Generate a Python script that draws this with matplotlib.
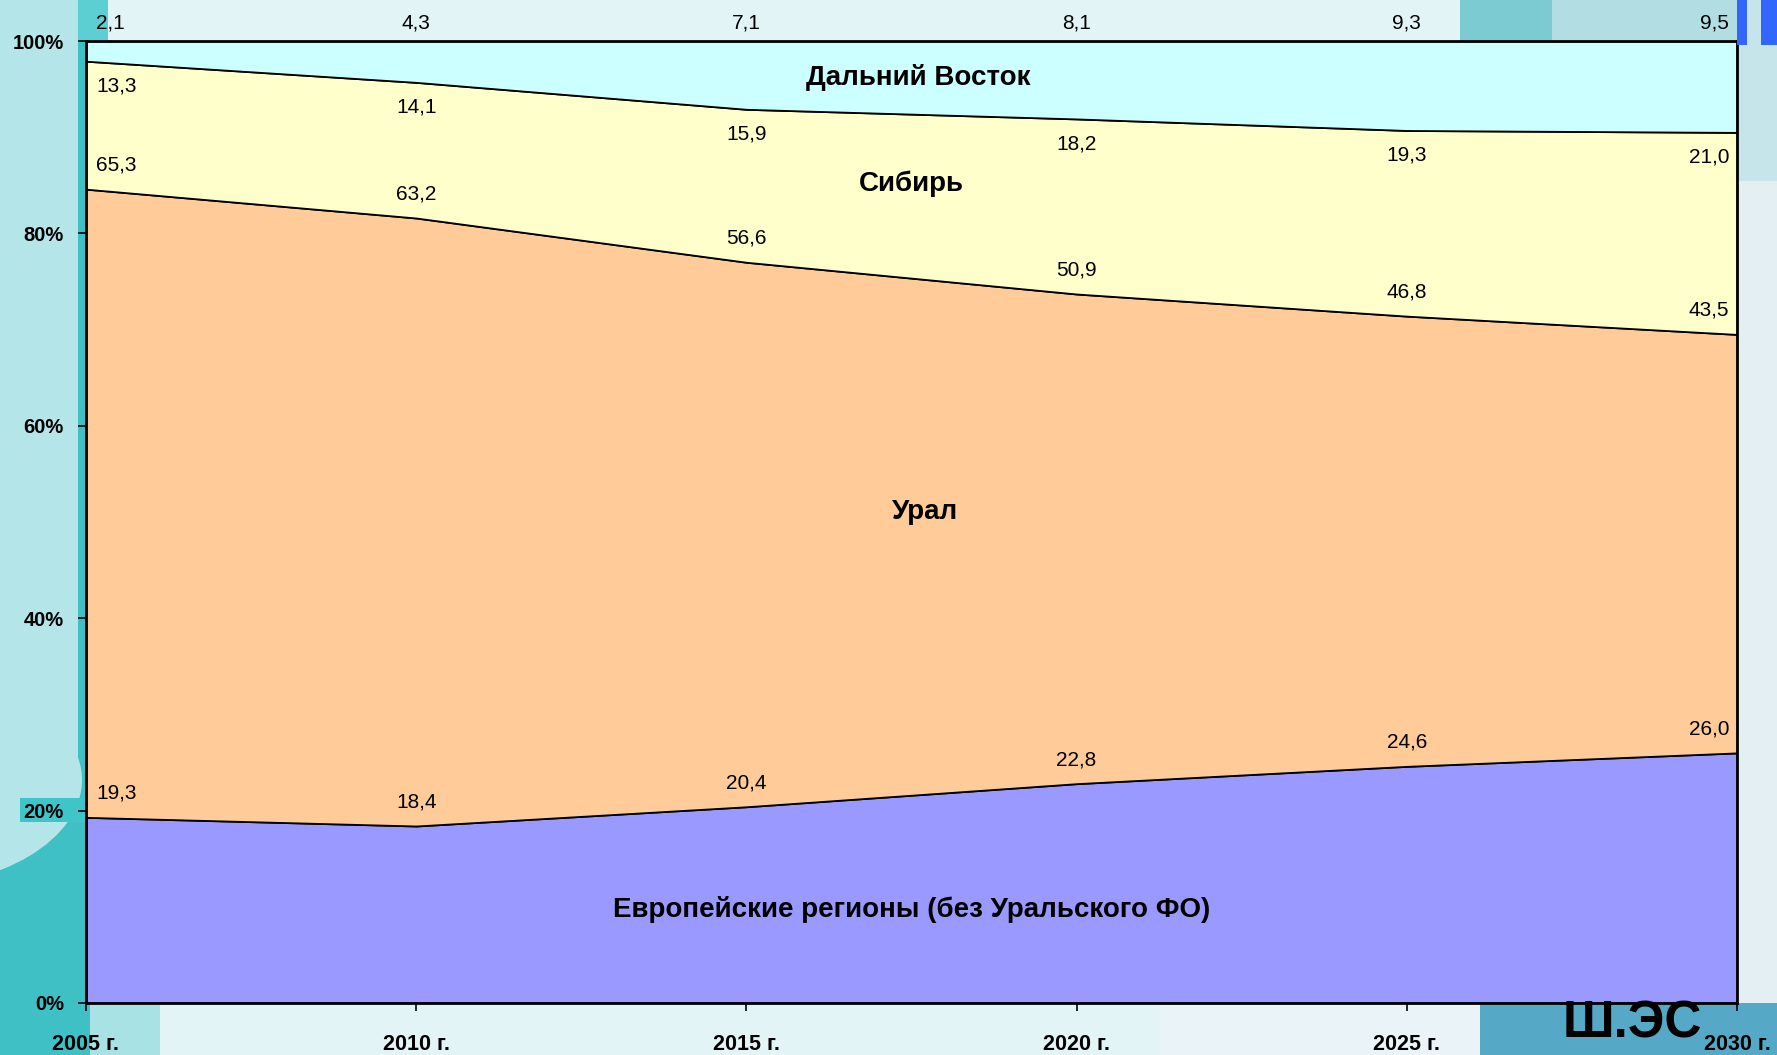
import matplotlib
matplotlib.use("Agg")
import matplotlib.pyplot as plt
from matplotlib.patches import Rectangle, Circle
import numpy as np

W, H = 1777, 1055

years = [2005, 2010, 2015, 2020, 2025, 2030]
year_labels = ["2005 г.", "2010 г.", "2015 г.", "2020 г.", "2025 г.", "2030 г."]
europe = [19.3, 18.4, 20.4, 22.8, 24.6, 26.0]
ural = [65.3, 63.2, 56.6, 50.9, 46.8, 43.5]
siberia = [13.3, 14.1, 15.9, 18.2, 19.3, 21.0]
far_east = [2.1, 4.3, 7.1, 8.1, 9.3, 9.5]

series_names = ["Европейские регионы (без Уральского ФО)", "Урал", "Сибирь", "Дальний Восток"]
colors = ["#9999ff", "#ffcc99", "#ffffcc", "#ccffff"]

plt.rcParams['font.family'] = ['Liberation Sans', 'DejaVu Sans']

fig = plt.figure(figsize=(W / 100, H / 100), dpi=100)
fig.patch.set_facecolor("#e2f4f6")


def px_rect(x0, y0, x1, y1, color, z=-3):
    # rectangle in figure pixels, y measured from the top
    fig.add_artist(Rectangle((x0 / W, 1 - y1 / H), (x1 - x0) / W, (y1 - y0) / H,
                             transform=fig.transFigure, facecolor=color,
                             edgecolor="none", zorder=z))


def px_circle(x, y, r, color, z=-2):
    fig.add_artist(Circle((x / W, 1 - y / H), r / W, transform=fig.transFigure,
                          facecolor=color, edgecolor="none", zorder=z))


# background decoration (kept behind the axes)
px_rect(0, 0, 90, H, "#3fc0c5")
px_rect(0, 0, 78, 780, "#b4e6e9", -2)
px_circle(-100, 780, 182, "#b4e6e9")
px_rect(78, 0, 108, 41, "#5ccfd3", -2)
px_rect(90, 1003, 160, H, "#a9e2e5")
px_rect(1160, 1003, 1480, H, "#eaf4f8")
px_rect(1480, 1003, W, H, "#56a9c6")
px_rect(1460, 0, 1552, 41, "#7ccad2")
px_rect(1552, 0, 1737, 41, "#b2dde2")
px_rect(1737, 0, W, 181, "#c6e5ea")
px_rect(1737, 181, W, 1003, "#e4eff3")
px_rect(20, 798, 86, 822, "#3fc4c8", -1)
px_rect(1737, 0, 1747, 45, "#3366ff", 3)
px_rect(1761, 0, W, 45, "#3366ff", 3)

ax = fig.add_axes([86 / W, 1 - 1003 / H, (1737 - 86) / W, (1003 - 41) / H])
ax.stackplot(years, europe, ural, siberia, far_east, colors=colors,
             edgecolor="black", linewidth=1.3, zorder=2)

ax.set_xlim(years[0], years[-1])
ax.set_ylim(0, 100)
ax.set_yticks(np.arange(0, 101, 20))
ax.set_yticklabels([f"{v}%" for v in range(0, 101, 20)])
ax.set_xticks(years)
ax.set_xticklabels(year_labels)
ax.tick_params(axis="y", direction="out", length=6, width=1.2, pad=10, labelsize=14.5)
ax.tick_params(axis="x", direction="out", length=6, width=1.2, pad=16, labelsize=15.5)
for lab in ax.get_xticklabels() + ax.get_yticklabels():
    lab.set_fontweight("bold")
for s in ax.spines.values():
    s.set_linewidth(2)
    s.set_zorder(5)

# value labels
eu = np.array(europe)
ur = eu + np.array(ural)
sb = ur + np.array(siberia)
label_sets = [
    (europe, eu + 2.5),
    (ural, ur + 2.5),
    (siberia, sb - 2.6),
    (far_east, np.full(len(years), 101.9)),
]
for vals, ys in label_sets:
    for i, (yr, v, y) in enumerate(zip(years, vals, ys)):
        if i == 0:
            x, ha = yr + 0.15, "left"
        elif i == len(years) - 1:
            x, ha = yr - 0.12, "right"
        else:
            x, ha = yr, "center"
        ax.text(x, y, f"{v:.1f}".replace(".", ","), ha=ha, va="center",
                fontsize=15, zorder=6, clip_on=False)

# series names
name_pos = [(2017.5, 9.7), (2017.7, 51.0), (2017.5, 85.2), (2017.6, 96.2)]
for name, (x, y) in zip(series_names, name_pos):
    ax.text(x, y, name, ha="center", va="center", fontsize=20,
            fontweight="bold", zorder=6)

fig.text(1632 / W, 1 - 1024 / H, "Ш.ЭС", ha="center", va="center",
         fontsize=37, fontweight="bold", zorder=7)

fig.savefig("out.png", dpi=100)
